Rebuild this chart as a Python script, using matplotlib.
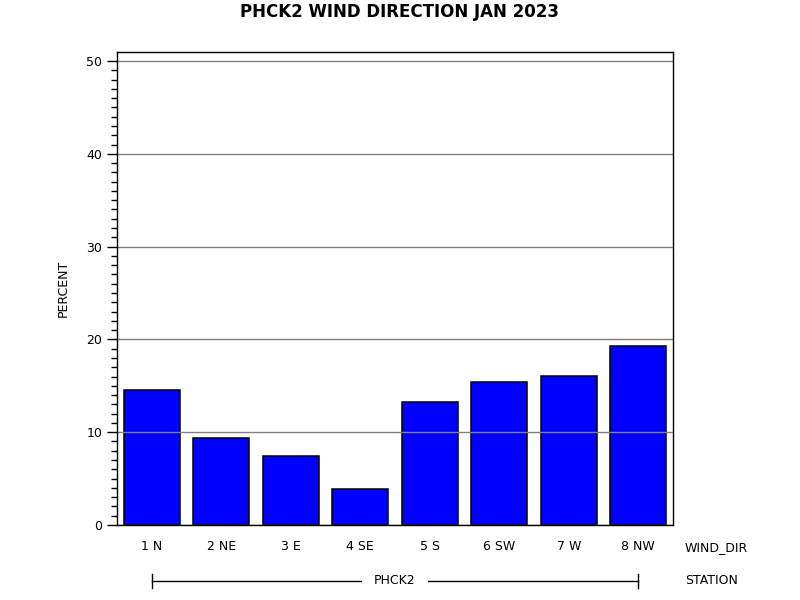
import numpy as np
import matplotlib
matplotlib.use('Agg')
import matplotlib.pyplot as plt
from matplotlib.ticker import MultipleLocator
import matplotlib.transforms as mtransforms

# values
wind_dirs = ['1 N', '2 NE', '3 E', '4 SE', '5 S', '6 SW', '7 W', '8 NW']
percent = [14.6, 9.4, 7.4, 3.85, 13.3, 15.4, 16.1, 19.3]
station = 'PHCK2'

plt.rcParams['font.family'] = ['DejaVu Sans']

fig = plt.figure(figsize=(8, 6), dpi=100)
ax = fig.add_axes([117/800, 75/600, 556/800, 473/600])

x = np.arange(len(wind_dirs))
ax.bar(x, percent, width=0.81, color='#0000ff', edgecolor='black', linewidth=1.1, zorder=2)

ax.set_xlim(-0.5, 7.5)
ax.set_ylim(0, 50.97)
ax.yaxis.set_major_locator(MultipleLocator(10))
ax.yaxis.set_minor_locator(MultipleLocator(1))
# grid sits on top of the bars like in the original
ax.set_axisbelow(False)
ax.grid(axis='y', which='major', color='#808080', linewidth=1, zorder=3)
ax.tick_params(axis='y', which='major', length=7, width=1, labelsize=9, direction='out')
ax.tick_params(axis='y', which='minor', length=4, width=1)
ax.set_xticks(x)
ax.set_xticklabels(wind_dirs, fontsize=9)
ax.tick_params(axis='x', length=0, pad=11)
for s in ax.spines.values():
    s.set_linewidth(1)
    s.set_zorder(4)

ax.set_ylabel('PERCENT', fontsize=9, labelpad=12)
fig.suptitle('PHCK2 WIND DIRECTION JAN 2023', fontsize=12, fontweight='bold', y=0.995)

# row labels on the right
ax.text(1.0216, -0.0486, 'WIND_DIR', transform=ax.transAxes, fontsize=9, ha='left', va='center')
ax.text(1.0216, -0.118, 'STATION', transform=ax.transAxes, fontsize=9, ha='left', va='center')

# station bracket under the bars
trans = mtransforms.blended_transform_factory(ax.transData, ax.transAxes)
yb = -0.118
ax.plot([x[0], x[-1]], [yb, yb], color='black', linewidth=1, transform=trans, clip_on=False)
for xe in (x[0], x[-1]):
    ax.plot([xe, xe], [yb - 0.015, yb + 0.015], color='black', linewidth=1, transform=trans, clip_on=False)
ax.text((x[0] + x[-1]) / 2, yb, station, transform=trans, fontsize=9, ha='center', va='center',
        bbox=dict(facecolor='white', edgecolor='none', pad=9))

fig.savefig('out.png', dpi=100)
